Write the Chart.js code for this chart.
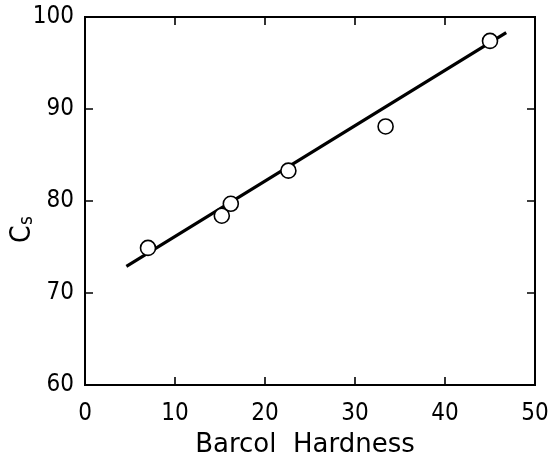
<!DOCTYPE html>
<html>
<head>
<meta charset="utf-8">
<script src="https://cdn.jsdelivr.net/npm/chart.js@4"></script>
<style>
  html, body { margin: 0; padding: 0; background: #fff; }
  #wrap { width: 551px; height: 459px; }
</style>
</head>
<body>
<div id="wrap"><canvas id="grafico" width="551" height="459"></canvas></div>
<script>
// Dados
const hardness = [7, 15.2, 16.2, 22.6, 33.4, 45];
const cs = [74.9, 78.4, 79.7, 83.3, 88.1, 97.4];
const fitX = [4.6, 46.8];
const fitY = [72.9, 98.3];
const xTicks = [0, 10, 20, 30, 40, 50];
const yTicks = [60, 70, 80, 90, 100];

const fonte = '"DejaVu Sans Condensed", "DejaVu Sans", sans-serif';

// moldura + ticks para dentro, nos quatro lados
const moldura = {
  id: 'moldura',
  afterDatasetsDraw(chart) {
    const { ctx, chartArea: a, scales: { x, y } } = chart;
    ctx.save();
    ctx.strokeStyle = '#000';
    ctx.lineWidth = 2;
    ctx.strokeRect(a.left, a.top, a.right - a.left, a.bottom - a.top);
    ctx.lineWidth = 1.6;
    const t = 8;
    ctx.beginPath();
    xTicks.slice(1, -1).forEach(v => {
      const px = x.getPixelForValue(v);
      ctx.moveTo(px, a.bottom); ctx.lineTo(px, a.bottom - t);
      ctx.moveTo(px, a.top); ctx.lineTo(px, a.top + t);
    });
    yTicks.slice(1, -1).forEach(v => {
      const py = y.getPixelForValue(v);
      ctx.moveTo(a.left, py); ctx.lineTo(a.left + t, py);
      ctx.moveTo(a.right, py); ctx.lineTo(a.right - t, py);
    });
    ctx.stroke();
    ctx.restore();
  }
};

// titulos: eixo x e eixo y com subscrito (C_s)
const titulos = {
  id: 'titulos',
  afterDraw(chart) {
    const { ctx } = chart;
    ctx.save();
    ctx.fillStyle = '#000';
    ctx.textBaseline = 'alphabetic';
    ctx.textAlign = 'center';
    ctx.font = '26px "DejaVu Sans", sans-serif';
    ctx.fillText('Barcol  Hardness', 305, 452);

    ctx.translate(30, 243);
    ctx.rotate(-Math.PI / 2);
    ctx.textAlign = 'left';
    ctx.font = '28px ' + fonte;
    ctx.fillText('C', 0, 0);
    ctx.font = '19px ' + fonte;
    ctx.fillText('s', 18, 2);
    ctx.restore();
  }
};

new Chart(document.getElementById('grafico'), {
  type: 'scatter',
  data: {
    datasets: [
      {
        label: 'Cs',
        data: hardness.map((v, i) => ({ x: v, y: cs[i] })),
        pointRadius: 7.5,
        pointBorderWidth: 1.6,
        pointBorderColor: '#000',
        pointBackgroundColor: '#fff',
        order: 0
      },
      {
        label: 'ajuste',
        data: fitX.map((v, i) => ({ x: v, y: fitY[i] })),
        showLine: true,
        borderColor: '#000',
        borderWidth: 3.2,
        pointRadius: 0,
        order: 1
      }
    ]
  },
  options: {
    responsive: false,
    animation: false,
    layout: { padding: { left: 0, right: 16, top: 17, bottom: 0 } },
    plugins: { legend: { display: false }, tooltip: { enabled: false } },
    scales: {
      x: {
        type: 'linear', min: 0, max: 50,
        afterBuildTicks: s => { s.ticks = xTicks.map(v => ({ value: v })); },
        afterFit: s => { s.height = 74; s.paddingLeft = 0; s.paddingRight = 0; },
        grid: { display: false, drawTicks: false },
        border: { display: false },
        ticks: { color: '#000', font: { family: fonte, size: 24 }, padding: 14, maxRotation: 0 }
      },
      y: {
        type: 'linear', min: 60, max: 100,
        afterBuildTicks: s => { s.ticks = yTicks.map(v => ({ value: v })); },
        afterFit: s => { s.width = 85; s.paddingTop = 0; s.paddingBottom = 0; },
        grid: { display: false, drawTicks: false },
        border: { display: false },
        ticks: { color: '#000', font: { family: fonte, size: 24 }, padding: 11 }
      }
    }
  },
  plugins: [moldura, titulos]
});
</script>
</body>
</html>
